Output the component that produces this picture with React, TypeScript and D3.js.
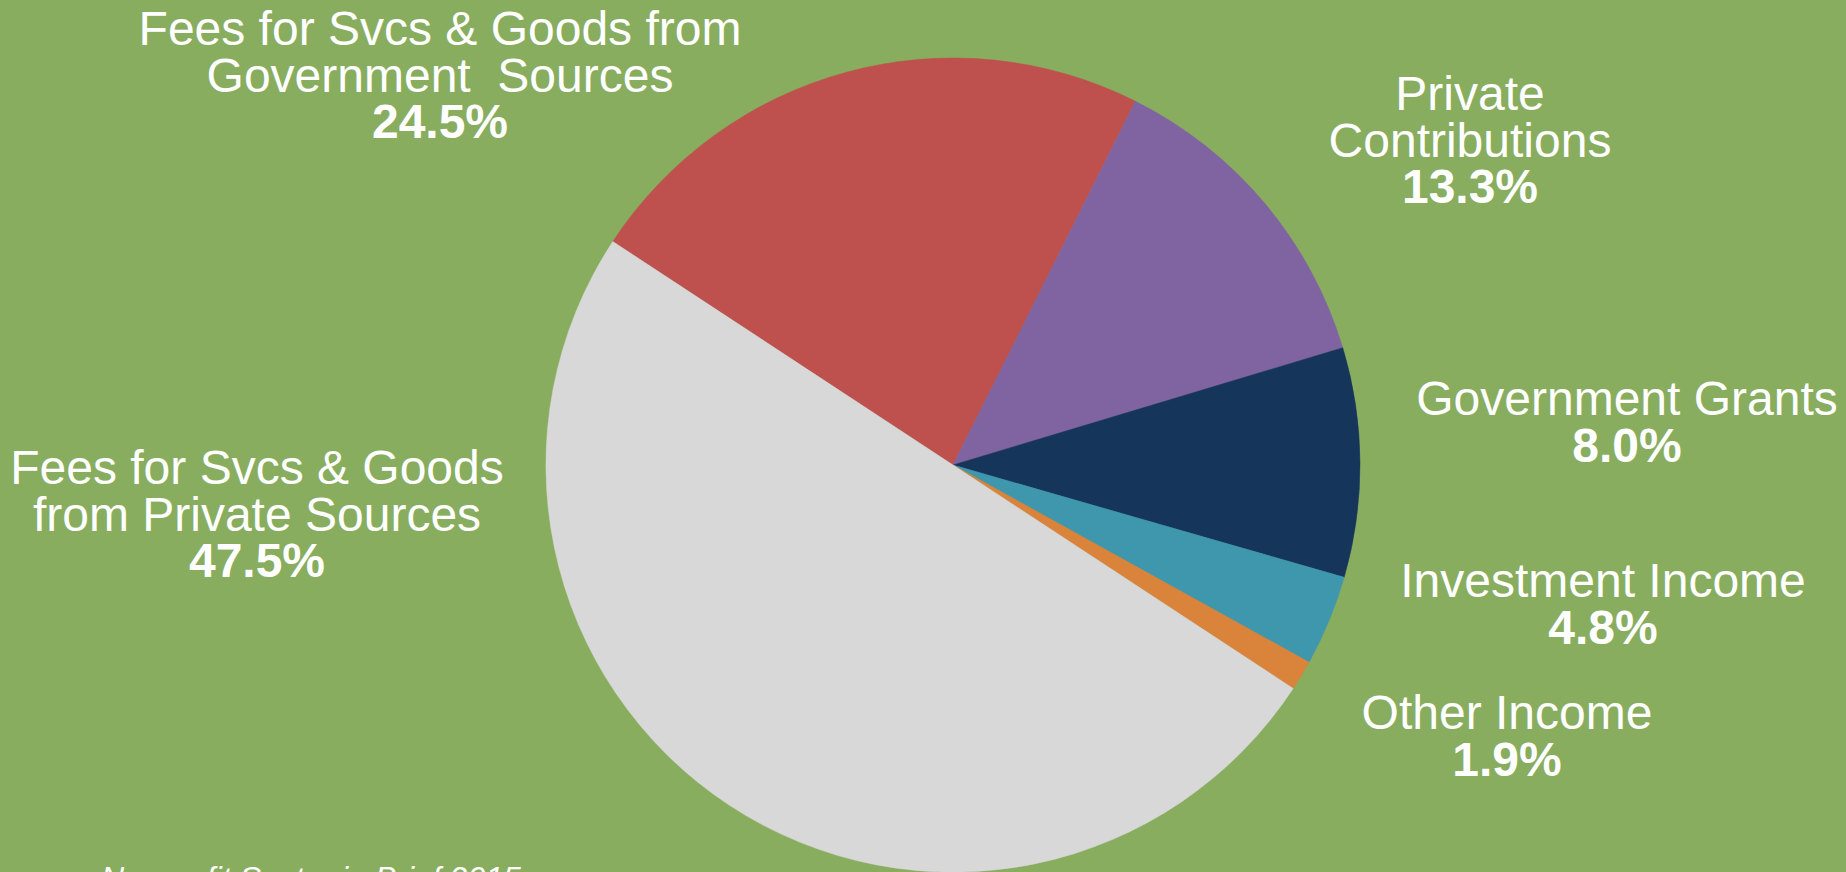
import React from "react";
import * as d3 from "d3";

// Categories, clockwise starting from the upper-left boundary of the red slice
const categories = [
  "Fees for Svcs & Goods from Government Sources",
  "Private Contributions",
  "Government Grants",
  "Investment Income",
  "Other Income",
  "Fees for Svcs & Goods from Private Sources",
];

// Printed percentage labels
const percentLabels = ["24.5%", "13.3%", "8.0%", "4.8%", "1.9%", "47.5%"];

// Slice shares as drawn in the picture (percent of the full circle)
const sliceShares = [23.15, 12.95, 9.1, 3.6, 1.2, 50.0];

// Label lines per category
const labelLines = [
  ["Fees for Svcs & Goods from", "Government  Sources"],
  ["Private", "Contributions"],
  ["Government Grants"],
  ["Investment Income"],
  ["Other Income"],
  ["Fees for Svcs & Goods", "from Private Sources"],
];

const sliceColors = ["#BE504D", "#8064A1", "#16355B", "#3F97AE", "#D9833B", "#D8D8D8"];

const footnote = "Nonprofit Sector in Brief 2015";

const W = 1846;
const H = 872;
const CX = 953;
const CY = 465;
const R = 407;
const START_DEG = -56.7;

// label anchor (center x, first baseline y)
const labelPos: [number, number][] = [
  [440, 45],
  [1470, 110],
  [1627, 415],
  [1603, 597],
  [1507, 729],
  [257, 484],
];
const LINE = 46.5;

export default function App() {
  const pie = d3
    .pie<number>()
    .sort(null)
    .value((d) => d)
    .startAngle((START_DEG * Math.PI) / 180)
    .endAngle((START_DEG * Math.PI) / 180 + 2 * Math.PI);
  const arcs = pie(sliceShares);
  const arc = d3.arc<d3.PieArcDatum<number>>().innerRadius(0).outerRadius(R);

  return (
    <svg
      width={W}
      height={H}
      style={{ position: "absolute", left: 0, top: 0, display: "block" }}
      fontFamily="'Liberation Sans', Arial, sans-serif"
    >
      <rect x={0} y={0} width={W} height={H} fill="#88AD5F" />
      <g transform={`translate(${CX},${CY})`}>
        {arcs.map((a, i) => (
          <path key={categories[i]} d={arc(a) || ""} fill={sliceColors[i]} stroke={sliceColors[i]} strokeWidth={0.5} />
        ))}
      </g>
      {categories.map((c, i) => {
        const [x, y] = labelPos[i];
        const lines = labelLines[i];
        return (
          <g key={c} fill="#FFFFFF" textAnchor="middle" fontSize={48}>
            {lines.map((l, j) => (
              <text key={j} x={x} y={y + j * LINE} style={{ whiteSpace: "pre" }}>
                {l}
              </text>
            ))}
            <text x={x} y={y + lines.length * LINE} fontWeight="bold">
              {percentLabels[i]}
            </text>
          </g>
        );
      })}
      <text x={101} y={889} fill="#FFFFFF" fontSize={32} fontStyle="italic">
        {footnote}
      </text>
    </svg>
  );
}
